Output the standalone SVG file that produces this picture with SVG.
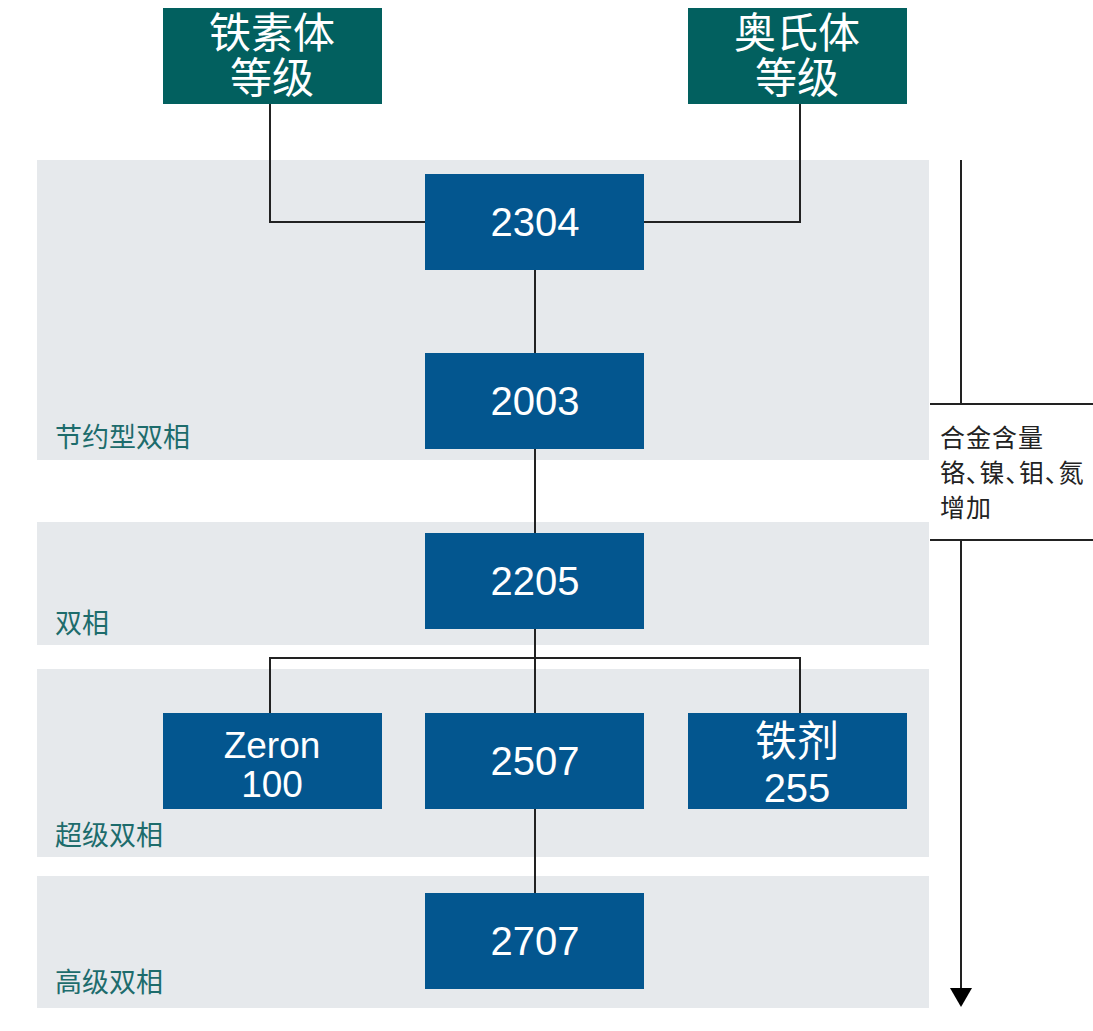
<svg xmlns="http://www.w3.org/2000/svg" width="1093" height="1031" viewBox="0 0 1093 1031">
<style>
.band{fill:#e6e9ec}
.teal{fill:#02605f}
.blue{fill:#03568f}
.bt{fill:#fff;font-family:"Liberation Sans","Noto Sans CJK SC",sans-serif;font-size:40px;text-anchor:middle}
.cj{font-size:42px}
.sm{font-size:37px}
.lbl{fill:#1d6c6c;font-family:"Noto Sans CJK SC",sans-serif;font-size:27px}
.side{fill:#222;font-family:"Noto Sans CJK SC",sans-serif;font-size:25px;letter-spacing:1px}
.ln{stroke:#222;stroke-width:2;fill:none}
</style>
<g id="bands">
<rect class="band" x="37" y="160" width="892" height="300"/>
<rect class="band" x="37" y="522" width="892" height="123"/>
<rect class="band" x="37" y="669" width="892" height="188"/>
<rect class="band" x="37" y="876" width="892" height="132"/>
<text class="lbl" x="55" y="447">节约型双相</text>
<text class="lbl" x="55" y="633">双相</text>
<text class="lbl" x="55" y="845">超级双相</text>
<text class="lbl" x="55" y="992">高级双相</text>
</g>
<g id="connectors">
<path class="ln" d="M270,104 V222 H425"/>
<path class="ln" d="M800,104 V222 H644"/>
<path class="ln" d="M535,270 V353"/>
<path class="ln" d="M535,449 V533"/>
<path class="ln" d="M535,629 V713"/>
<path class="ln" d="M270,713 V658 H800 V713"/>
<path class="ln" d="M535,809 V893"/>
</g>
<g id="axis">
<path class="ln" d="M961,160 V404"/>
<path class="ln" d="M930,404 H1093"/>
<path class="ln" d="M930,540 H1093"/>
<path class="ln" d="M961,540 V990"/>
<polygon points="950,988 972,988 961,1007" fill="#000"/>
<text class="side" x="940" y="447">合金含量</text>
<text class="side" x="940" y="482" style="font-feature-settings:'palt'">铬、镍、钼、氮</text>
<text class="side" x="940" y="517">增加</text>
</g>
<g id="ferritic">
<rect class="teal" x="163" y="8" width="219" height="96"/>
<text class="bt cj" x="272" y="48">铁素体</text>
<text class="bt cj" x="272" y="93">等级</text>
</g>
<g id="austenitic">
<rect class="teal" x="688" y="8" width="219" height="96"/>
<text class="bt cj" x="797" y="48">奥氏体</text>
<text class="bt cj" x="797" y="93">等级</text>
</g>
<g id="n2304">
<rect class="blue" x="425" y="174" width="219" height="96"/>
<text class="bt" x="535" y="236">2304</text>
</g>
<g id="n2003">
<rect class="blue" x="425" y="353" width="219" height="96"/>
<text class="bt" x="535" y="415">2003</text>
</g>
<g id="n2205">
<rect class="blue" x="425" y="533" width="219" height="96"/>
<text class="bt" x="535" y="595">2205</text>
</g>
<g id="zeron">
<rect class="blue" x="163" y="713" width="219" height="96"/>
<text class="bt sm" x="272" y="758">Zeron</text>
<text class="bt sm" x="272" y="797">100</text>
</g>
<g id="n2507">
<rect class="blue" x="425" y="713" width="219" height="96"/>
<text class="bt" x="535" y="775">2507</text>
</g>
<g id="ferralium">
<rect class="blue" x="688" y="713" width="219" height="96"/>
<text class="bt cj" x="797" y="756">铁剂</text>
<text class="bt" x="797" y="802">255</text>
</g>
<g id="n2707">
<rect class="blue" x="425" y="893" width="219" height="96"/>
<text class="bt" x="535" y="955">2707</text>
</g>
</svg>
